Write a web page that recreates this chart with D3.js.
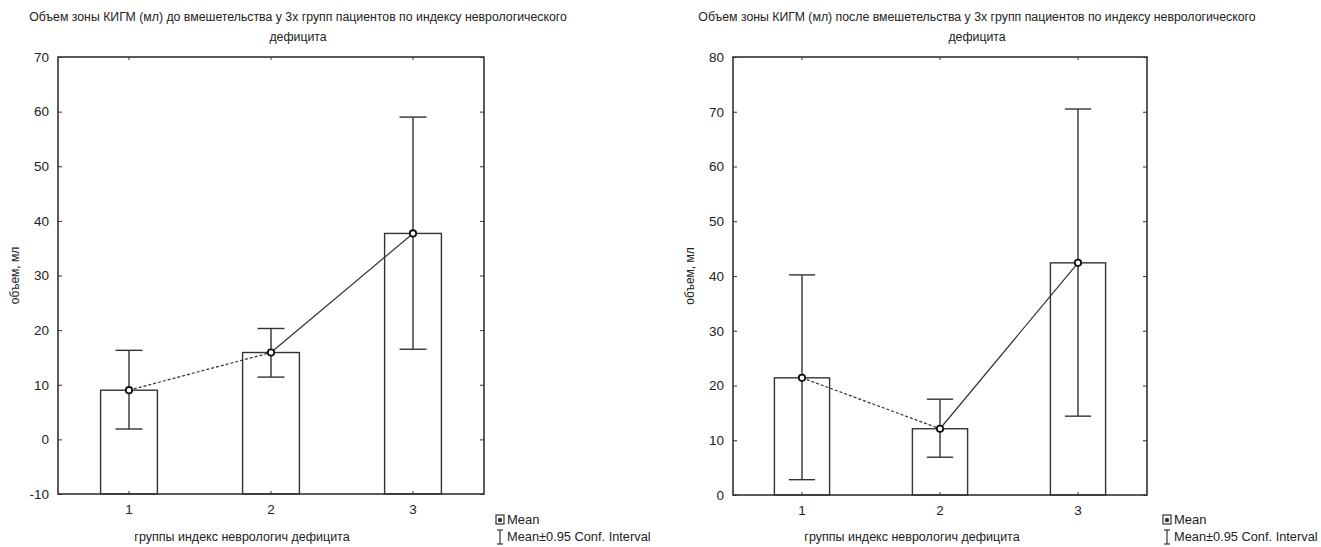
<!DOCTYPE html>
<html>
<head>
<meta charset="utf-8">
<script src="https://cdn.jsdelivr.net/npm/d3@7"></script>
<style>
  body { margin: 0; background: #fff; }
  svg { display: block; }
  text { font-family: "Liberation Sans Narrow", "Arial Narrow", "Liberation Sans", sans-serif; fill: #222; }
</style>
</head>
<body>
<div id="chart"></div>
<script>
// groups of neuro deficit index
var categories = ["1", "2", "3"];

// before intervention
var meanBefore = [9.0, 15.9, 37.7];
var ciLowBefore = [1.9, 11.4, 16.5];
var ciHighBefore = [16.3, 20.3, 59.0];
var ticksBefore = [-10, 0, 10, 20, 30, 40, 50, 60, 70];

// after intervention
var meanAfter = [21.4, 12.1, 42.4];
var ciLowAfter = [2.8, 6.9, 14.4];
var ciHighAfter = [40.2, 17.5, 70.5];
var ticksAfter = [0, 10, 20, 30, 40, 50, 60, 70, 80];

var svg = d3.select("#chart").append("svg")
    .attr("width", 1321)
    .attr("height", 547);

function drawPanel(opt) {
    var g = svg.append("g");
    var x = d3.scaleBand().domain(categories).range([opt.left, opt.right]);
    var y = d3.scaleLinear().domain(opt.domain).range([opt.bottom, opt.top]);
    var barW = x.bandwidth() * 0.4;
    var capW = x.bandwidth() * 0.19;
    var cx = function(d) { return x(d) + x.bandwidth() / 2; };

    // title
    var title = g.append("text")
        .attr("x", opt.titleX)
        .attr("text-anchor", "middle")
        .style("font-size", "12.3px");
    title.append("tspan").attr("x", opt.titleX).attr("y", 21).text(opt.title1);
    title.append("tspan").attr("x", opt.titleX).attr("y", 41).text("дефицита");

    // bars
    g.selectAll(".bar").data(categories).enter().append("rect")
        .attr("x", d => cx(d) - barW / 2)
        .attr("y", (d, i) => y(opt.means[i]))
        .attr("width", barW)
        .attr("height", (d, i) => y(opt.domain[0]) - y(opt.means[i]))
        .attr("fill", "#fff")
        .attr("stroke", "#333")
        .attr("stroke-width", 1.4);

    // error bars
    categories.forEach(function(c, i) {
        var eb = g.append("g").attr("stroke", "#333").attr("stroke-width", 1.4);
        eb.append("line").attr("x1", cx(c)).attr("x2", cx(c))
            .attr("y1", y(opt.lo[i])).attr("y2", y(opt.hi[i]));
        eb.append("line").attr("x1", cx(c) - capW / 2).attr("x2", cx(c) + capW / 2)
            .attr("y1", y(opt.lo[i])).attr("y2", y(opt.lo[i]));
        eb.append("line").attr("x1", cx(c) - capW / 2).attr("x2", cx(c) + capW / 2)
            .attr("y1", y(opt.hi[i])).attr("y2", y(opt.hi[i]));
    });

    // mean line: 1->2 dashed, 2->3 solid
    g.append("line")
        .attr("x1", cx(categories[0])).attr("y1", y(opt.means[0]))
        .attr("x2", cx(categories[1])).attr("y2", y(opt.means[1]))
        .attr("stroke", "#333").attr("stroke-width", 1.2)
        .attr("stroke-dasharray", "3,2");
    g.append("line")
        .attr("x1", cx(categories[1])).attr("y1", y(opt.means[1]))
        .attr("x2", cx(categories[2])).attr("y2", y(opt.means[2]))
        .attr("stroke", "#333").attr("stroke-width", 1.2);

    g.selectAll(".mean").data(categories).enter().append("circle")
        .attr("cx", d => cx(d))
        .attr("cy", (d, i) => y(opt.means[i]))
        .attr("r", 3.2)
        .attr("fill", "#fff")
        .attr("stroke", "#111")
        .attr("stroke-width", 1.8);

    // axes
    var yAxis = d3.axisLeft(y).tickValues(opt.ticks).tickSize(-4).tickPadding(9)
        .tickFormat(d => String(d));
    g.append("g").attr("transform", `translate(${opt.left},0)`).call(yAxis)
        .call(a => a.select(".domain").remove())
        .selectAll("text").style("font-size", "13.5px");
    g.append("g").attr("transform", `translate(${opt.right},0)`)
        .call(d3.axisRight(y).tickValues(opt.ticks).tickSize(-4).tickFormat(""))
        .call(a => a.select(".domain").remove());

    var xAxis = d3.axisBottom(x).tickSize(-3).tickPadding(10);
    g.append("g").attr("transform", `translate(0,${opt.bottom})`).call(xAxis)
        .call(a => a.select(".domain").remove())
        .selectAll("text").style("font-size", "13.5px");
    g.append("g").attr("transform", `translate(0,${opt.top})`)
        .call(d3.axisTop(x).tickSize(-3).tickFormat(""))
        .call(a => a.select(".domain").remove());
    g.selectAll(".tick line").attr("stroke", "#333");

    // frame
    g.append("rect")
        .attr("x", opt.left).attr("y", opt.top)
        .attr("width", opt.right - opt.left)
        .attr("height", opt.bottom - opt.top)
        .attr("fill", "none")
        .attr("stroke", "#333")
        .attr("stroke-width", 1.6);

    // axis labels
    g.append("text")
        .attr("transform", `translate(${opt.left - 39},${(opt.top + opt.bottom) / 2}) rotate(-90)`)
        .attr("text-anchor", "middle")
        .style("font-size", "12px")
        .text("объем, мл");
    g.append("text")
        .attr("x", opt.xLabelX).attr("y", 541)
        .attr("text-anchor", "middle")
        .style("font-size", "12.5px")
        .text("группы индекс неврологич дефицита");

    // legend
    var lx = opt.legendX;
    g.append("rect").attr("x", lx).attr("y", 515).attr("width", 8).attr("height", 9)
        .attr("fill", "#fff").attr("stroke", "#333").attr("stroke-width", 1.2);
    g.append("circle").attr("cx", lx + 4).attr("cy", 520).attr("r", 2.2)
        .attr("fill", "#333");
    g.append("text").attr("x", lx + 11).attr("y", 524).style("font-size", "13px").text("Mean");
    var ci = g.append("g").attr("stroke", "#333").attr("stroke-width", 1.2);
    ci.append("line").attr("x1", lx + 4).attr("x2", lx + 4).attr("y1", 530).attr("y2", 544);
    ci.append("line").attr("x1", lx + 1).attr("x2", lx + 7).attr("y1", 530).attr("y2", 530);
    ci.append("line").attr("x1", lx + 1).attr("x2", lx + 7).attr("y1", 544).attr("y2", 544);
    g.append("text").attr("x", lx + 11).attr("y", 541).style("font-size", "12.8px")
        .text("Mean±0.95 Conf. Interval");
}

drawPanel({
    left: 58, right: 484, top: 57, bottom: 494,
    domain: [-10, 70], ticks: ticksBefore,
    means: meanBefore, lo: ciLowBefore, hi: ciHighBefore,
    title1: "Объем зоны КИГМ (мл) до вмешетельства у 3х групп пациентов по индексу неврологического",
    titleX: 298, xLabelX: 242, legendX: 496
});

drawPanel({
    left: 733, right: 1147, top: 57, bottom: 495,
    domain: [0, 80], ticks: ticksAfter,
    means: meanAfter, lo: ciLowAfter, hi: ciHighAfter,
    title1: "Объем зоны КИГМ (мл) после вмешетельства у 3х групп пациентов по индексу неврологического",
    titleX: 977, xLabelX: 912, legendX: 1163
});
</script>
</body>
</html>
